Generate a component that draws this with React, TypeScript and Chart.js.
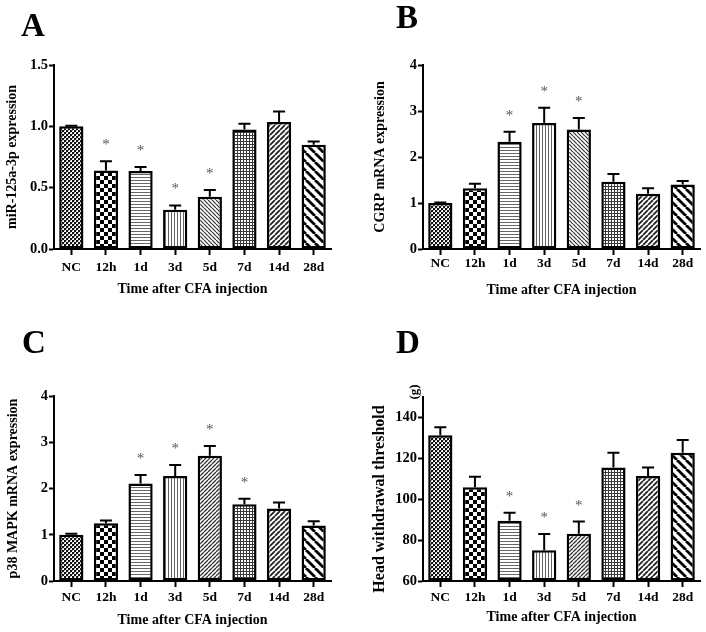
import React, { useEffect, useRef } from 'react';
import { Chart, registerables } from 'chart.js';

Chart.register(...registerables);

// ---------- data ----------
const categories = ['NC', '12h', '1d', '3d', '5d', '7d', '14d', '28d'];

const mirValues = [1.0, 0.64, 0.635, 0.32, 0.425, 0.975, 1.035, 0.85];
const mirErrors = [0.005, 0.075, 0.033, 0.035, 0.055, 0.047, 0.085, 0.027];
const mirSig = [1, 2, 3, 4];
const mirTicks = [0, 0.5, 1.0, 1.5];

const cgrpValues = [1.0, 1.32, 2.33, 2.74, 2.6, 1.46, 1.2, 1.4];
const cgrpErrors = [0.01, 0.1, 0.22, 0.33, 0.25, 0.17, 0.12, 0.08];
const cgrpSig = [2, 3, 4];
const cgrpTicks = [0, 1, 2, 3, 4];

const p38Values = [1.0, 1.25, 2.11, 2.27, 2.71, 1.66, 1.57, 1.2];
const p38Errors = [0.02, 0.06, 0.18, 0.24, 0.21, 0.12, 0.13, 0.09];
const p38Sig = [2, 3, 4, 5];
const p38Ticks = [0, 1, 2, 3, 4];

const hwtValues = [131.3, 105.8, 89.5, 75, 83.1, 115.5, 111.3, 122.7];
const hwtErrors = [3.9, 5.2, 3.9, 8, 6, 7.2, 4.2, 6.3];
const hwtSig = [2, 3, 4];
const hwtTicks = [60, 80, 100, 120, 140];

const panelLetters = ['A', 'B', 'C', 'D'];
const yTitles = [
  'miR-125a-3p expression',
  'CGRP mRNA expression',
  'p38 MAPK mRNA expression',
  'Head withdrawal threshold     ',
];
const xTitle = 'Time after CFA injection';
const unitLabel = '(g)';

const FONT = '"Liberation Serif", "Times New Roman", serif';

// ---------- patterns ----------
function makePattern(kind: string): CanvasPattern {
  const c = document.createElement('canvas');
  const ctx = c.getContext('2d') as CanvasRenderingContext2D;
  const base = (s: number) => {
    c.width = s;
    c.height = s;
    ctx.fillStyle = '#fff';
    ctx.fillRect(0, 0, s, s);
  };
  const diag = (s: number, lw: number, color: string, back: boolean) => {
    base(s);
    ctx.strokeStyle = color;
    ctx.lineWidth = lw;
    ctx.beginPath();
    for (let k = -1; k <= 1; k++) {
      if (back) {
        ctx.moveTo(k * s, 0);
        ctx.lineTo(k * s + s, s);
      } else {
        ctx.moveTo(k * s, s);
        ctx.lineTo(k * s + s, 0);
      }
    }
    ctx.stroke();
  };
  switch (kind) {
    case 'fineChecker':
      base(4);
      ctx.fillStyle = '#111';
      ctx.fillRect(0, 0, 2, 2);
      ctx.fillRect(2, 2, 2, 2);
      ctx.fillStyle = '#999';
      ctx.fillRect(2, 0, 1, 1);
      ctx.fillRect(0, 2, 1, 1);
      break;
    case 'checker':
      base(8);
      ctx.fillStyle = '#000';
      ctx.fillRect(0, 0, 4, 4);
      ctx.fillRect(4, 4, 4, 4);
      break;
    case 'hlines':
      base(3);
      ctx.fillStyle = '#666';
      ctx.fillRect(0, 0, 3, 1);
      break;
    case 'vlines':
      base(3);
      ctx.fillStyle = '#666';
      ctx.fillRect(0, 0, 1, 3);
      break;
    case 'grid':
      base(3);
      ctx.fillStyle = '#3a3a3a';
      ctx.fillRect(0, 0, 3, 1);
      ctx.fillRect(0, 0, 1, 3);
      break;
    case 'diagBackFine':
      diag(4, 1.2, '#333', true);
      break;
    case 'diagFwdFine':
      diag(4, 1.3, '#333', false);
      break;
    case 'diagFwd':
      diag(5, 1.8, '#222', false);
      break;
    case 'diagBackThick':
      diag(9, 2.8, '#000', true);
      break;
    default:
      base(2);
  }
  return ctx.createPattern(c, 'repeat') as CanvasPattern;
}

const patternsAB = ['fineChecker', 'checker', 'hlines', 'vlines', 'diagBackFine', 'grid', 'diagFwd', 'diagBackThick'];
const patternsCD = ['fineChecker', 'checker', 'hlines', 'vlines', 'diagFwdFine', 'grid', 'diagFwd', 'diagBackThick'];

// ---------- panel configs (layout) ----------
type PanelCfg = {
  letter: string;
  yTitle: string;
  values: number[];
  errors: number[];
  sig: number[];
  ticks: number[];
  decimals: number;
  patterns: string[];
  left: number;
  right: number;
  top: number;
  bottom: number;
  xTickPad: number;
  xTitlePad: number;
  yTitlePad: number;
  yTitleSize: number;
  letterX: number;
  letterY: number;
  unit?: string;
  pos: [number, number];
};

const W = 353;
const H = 316;

const panels: PanelCfg[] = [
  {
    letter: panelLetters[0], yTitle: yTitles[0], values: mirValues, errors: mirErrors, sig: mirSig,
    ticks: mirTicks, decimals: 1, patterns: patternsAB,
    left: 54, right: 331, top: 65, bottom: 249, xTickPad: 4, xTitlePad: 18.6, yTitlePad: 3.6, yTitleSize: 14,
    letterX: 21, letterY: 36, pos: [0, 0],
  },
  {
    letter: panelLetters[1], yTitle: yTitles[1], values: cgrpValues, errors: cgrpErrors, sig: cgrpSig,
    ticks: cgrpTicks, decimals: 0, patterns: patternsAB,
    left: 70, right: 347, top: 65, bottom: 249, xTickPad: 0, xTitlePad: 17.6, yTitlePad: 18.6, yTitleSize: 14,
    letterX: 43, letterY: 28, pos: [353, 0],
  },
  {
    letter: panelLetters[2], yTitle: yTitles[2], values: p38Values, errors: p38Errors, sig: p38Sig,
    ticks: p38Ticks, decimals: 0, patterns: patternsCD,
    left: 54, right: 331, top: 80, bottom: 265, xTickPad: 2, xTitlePad: 3.6, yTitlePad: 4.6, yTitleSize: 14,
    letterX: 22, letterY: 37, pos: [0, 316],
  },
  {
    letter: panelLetters[3], yTitle: yTitles[3], values: hwtValues, errors: hwtErrors, sig: hwtSig,
    ticks: hwtTicks, decimals: 0, patterns: patternsCD,
    left: 70, right: 347, top: 81, bottom: 265, xTickPad: 2, xTitlePad: 6.6, yTitlePad: 17.4, yTitleSize: 16,
    letterX: 43, letterY: 37, unit: unitLabel, pos: [353, 316],
  },
];

function Panel({ cfg }: { cfg: PanelCfg }) {
  const ref = useRef<HTMLCanvasElement | null>(null);

  useEffect(() => {
    const canvas = ref.current;
    if (!canvas) return;
    const minV = cfg.ticks[0];
    const maxV = cfg.unit ? 150 : cfg.ticks[cfg.ticks.length - 1];

    const overlay = {
      id: 'overlay' + cfg.letter,
      afterDatasetsDraw(chart: any) {
        const { ctx } = chart;
        const meta = chart.getDatasetMeta(0);
        const y = chart.scales.y;
        ctx.save();
        ctx.strokeStyle = '#000';
        ctx.lineWidth = 2;
        cfg.values.forEach((v, i) => {
          const bar = meta.data[i];
          const x = bar.x;
          const yv = y.getPixelForValue(v);
          const yTop = y.getPixelForValue(v + cfg.errors[i]);
          ctx.beginPath();
          ctx.moveTo(x, yv);
          ctx.lineTo(x, yTop);
          ctx.moveTo(x - 6, yTop);
          ctx.lineTo(x + 6, yTop);
          ctx.stroke();
          if (cfg.sig.includes(i)) {
            ctx.fillStyle = '#555';
            ctx.font = `15px ${FONT}`;
            ctx.textAlign = 'center';
            ctx.textBaseline = 'alphabetic';
            ctx.fillText('*', x, yTop - 19 + 7);
          }
        });
        ctx.restore();
      },
      afterDraw(chart: any) {
        const { ctx } = chart;
        ctx.save();
        ctx.fillStyle = '#000';
        ctx.font = `bold 33px ${FONT}`;
        ctx.textAlign = 'left';
        ctx.textBaseline = 'alphabetic';
        ctx.fillText(cfg.letter, cfg.letterX, cfg.letterY);
        if (cfg.unit) {
          ctx.translate(62, 76);
          ctx.rotate(-Math.PI / 2);
          ctx.font = `bold 13px ${FONT}`;
          ctx.textAlign = 'center';
          ctx.textBaseline = 'middle';
          ctx.fillText(cfg.unit, 0, 0);
        }
        ctx.restore();
      },
    };

    const chart = new Chart(canvas, {
      type: 'bar',
      data: {
        labels: categories,
        datasets: [
          {
            data: cfg.values,
            backgroundColor: cfg.patterns.map((p) => makePattern(p)) as any,
            borderColor: '#000',
            borderWidth: 2.5,
            borderSkipped: false,
            barPercentage: 0.7,
            categoryPercentage: 1.0,
            base: minV,
          } as any,
        ],
      },
      options: {
        responsive: false,
        animation: false,
        devicePixelRatio: 1,
        layout: { padding: { left: 0, top: cfg.top, right: W - cfg.right, bottom: 0 } },
        plugins: { legend: { display: false }, tooltip: { enabled: false } },
        scales: {
          x: {
            offset: true,
            grid: {
              offset: false,
              drawOnChartArea: false,
              drawTicks: true,
              tickLength: 6,
              tickWidth: 2,
              tickColor: '#000',
            },
            border: { display: true, color: '#000', width: 2 },
            ticks: {
              color: '#000',
              padding: cfg.xTickPad,
              font: { family: FONT, size: 13.5, weight: 'bold' },
              maxRotation: 0,
              autoSkip: false,
            },
            title: {
              display: true,
              text: xTitle,
              color: '#000',
              font: { family: FONT, size: 14, weight: 'bold' },
              padding: { top: 0, bottom: cfg.xTitlePad },
            },
            afterFit: (s: any) => {
              s.height = H - cfg.bottom;
            },
          },
          y: {
            min: minV,
            max: maxV,
            grid: {
              drawOnChartArea: false,
              drawTicks: true,
              tickLength: 5,
              tickWidth: 2,
              tickColor: '#000',
            },
            border: { display: true, color: '#000', width: 2 },
            ticks: {
              color: '#000',
              padding: 1,
              font: { family: FONT, size: 14.5, weight: 'bold' },
              callback: (v: any) => Number(v).toFixed(cfg.decimals),
            },
            afterBuildTicks: (s: any) => {
              s.ticks = cfg.ticks.map((v) => ({ value: v }));
            },
            title: {
              display: true,
              text: cfg.yTitle,
              color: '#000',
              font: { family: FONT, size: cfg.yTitleSize, weight: 'bold' },
              padding: { top: cfg.yTitlePad, bottom: 0 },
            },
            afterFit: (s: any) => {
              s.width = cfg.left;
            },
          },
        },
      },
      plugins: [overlay],
    });

    return () => chart.destroy();
  }, [cfg]);

  return (
    <canvas
      ref={ref}
      width={W}
      height={H}
      style={{ position: 'absolute', left: cfg.pos[0], top: cfg.pos[1], width: W, height: H }}
    />
  );
}

export default function App() {
  return (
    <div style={{ position: 'absolute', left: 0, top: 0, width: 706, height: 632, background: '#fff' }}>
      {panels.map((p) => (
        <Panel key={p.letter} cfg={p} />
      ))}
    </div>
  );
}
